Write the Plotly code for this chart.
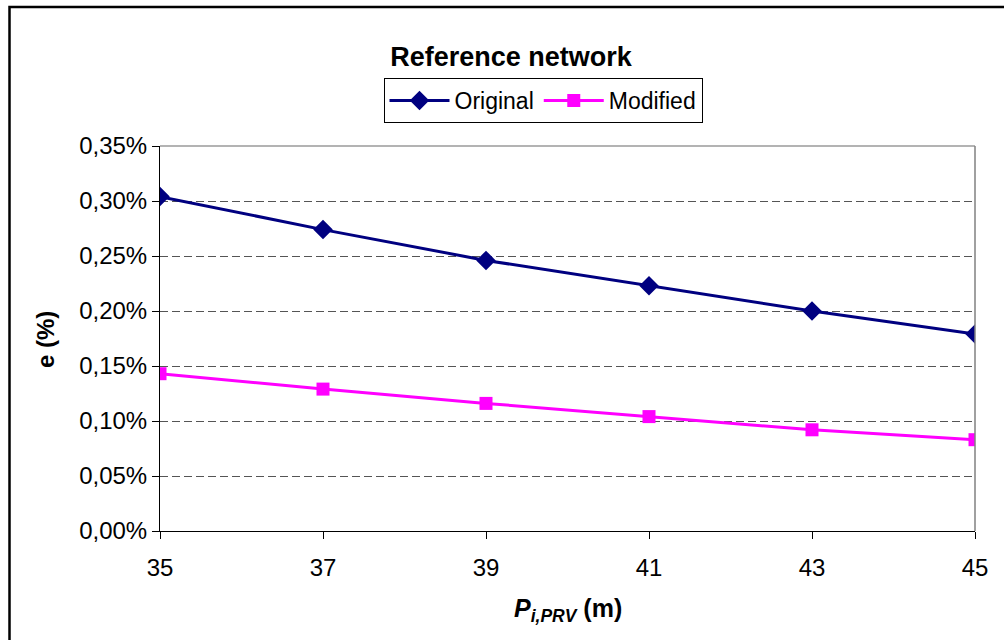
import plotly.graph_objects as go

# Inlet pressure at the PRV (m)
pressure = [35, 37, 39, 41, 43, 45]
# Error e (%) for each network variant
e_original = [0.304, 0.274, 0.246, 0.223, 0.200, 0.179]
e_modified = [0.143, 0.129, 0.116, 0.104, 0.092, 0.083]
y_ticks = [0.00, 0.05, 0.10, 0.15, 0.20, 0.25, 0.30, 0.35]
y_tick_text = ["0,00%", "0,05%", "0,10%", "0,15%", "0,20%", "0,25%", "0,30%", "0,35%"]
x_ticks = [35, 37, 39, 41, 43, 45]

W, H = 1004, 640
L, R, T, B = 160, 975, 146, 531  # plot-area edges in pixels


def px_x(p):
    return (p - L) / (R - L)


def px_y(p):
    return (B - p) / (B - T)


FONT = "Liberation Sans, Arial, sans-serif"

fig = go.Figure()
fig.add_trace(go.Scatter(
    x=pressure, y=e_original, name="Original", mode="lines+markers",
    line=dict(color="#000080", width=3),
    marker=dict(symbol="diamond", size=15, color="#000080"),
))
fig.add_trace(go.Scatter(
    x=pressure, y=e_modified, name="Modified", mode="lines+markers",
    line=dict(color="#FF00FF", width=3),
    marker=dict(symbol="square", size=13, color="#FF00FF"),
))

fig.update_layout(
    width=W, height=H,
    margin=dict(l=L, r=W - R, t=T, b=H - B, pad=0),
    paper_bgcolor="white", plot_bgcolor="white",
    font=dict(family=FONT, size=24, color="black"),
    title=dict(text="<b>Reference network</b>", xref="container", yref="container",
               x=511 / W, y=1 - 57 / H, xanchor="center", yanchor="middle",
               font=dict(size=27, family=FONT)),
    showlegend=True,
    legend=dict(orientation="h", x=px_x(543), y=px_y(78), xanchor="center", yanchor="top",
                bordercolor="black", borderwidth=1, bgcolor="white",
                font=dict(size=23, family=FONT), itemwidth=60,
                tracegroupgap=0),
    xaxis=dict(range=[35, 45], tickmode="array", tickvals=x_ticks,
               showline=True, linecolor="black", linewidth=1,
               ticks="outside", ticklen=7, tickcolor="black",
               ticklabelstandoff=8,
               showgrid=False, zeroline=False,
               tickfont=dict(size=24)),
    yaxis=dict(range=[0, 0.35], tickmode="array", tickvals=y_ticks, ticktext=y_tick_text,
               showline=True, linecolor="black", linewidth=1,
               ticks="outside", ticklen=7, tickcolor="black",
               showgrid=True, gridcolor="#555555", gridwidth=1, griddash="8px,4px",
               zeroline=False, tickfont=dict(size=24)),
    shapes=[
        # right and top edges of the plot area
        dict(type="line", xref="paper", yref="paper", x0=1, x1=1, y0=0, y1=1,
             line=dict(color="#808080", width=1.5)),
        dict(type="line", xref="paper", yref="paper", x0=0, x1=1, y0=1, y1=1,
             line=dict(color="#9a9a9a", width=1.5), layer="below"),
        # outer chart frame
        dict(type="rect", xref="paper", yref="paper",
             x0=px_x(9.5), x1=px_x(W + 20), y0=px_y(7), y1=px_y(H + 20),
             line=dict(color="black", width=2.5)),
    ],
    annotations=[
        dict(text="<b>e (%)</b>", xref="paper", yref="paper", x=px_x(45), y=px_y(340),
             textangle=-90, showarrow=False, xanchor="center", yanchor="middle",
             font=dict(size=24, family=FONT)),
        dict(text="<b><i>P</i><sub><i>i,PRV</i></sub> (m)</b>", xref="paper", yref="paper",
             x=px_x(568), y=px_y(610), showarrow=False, xanchor="center", yanchor="middle",
             font=dict(size=25, family=FONT)),
    ],
)

fig.write_html("out.html")
